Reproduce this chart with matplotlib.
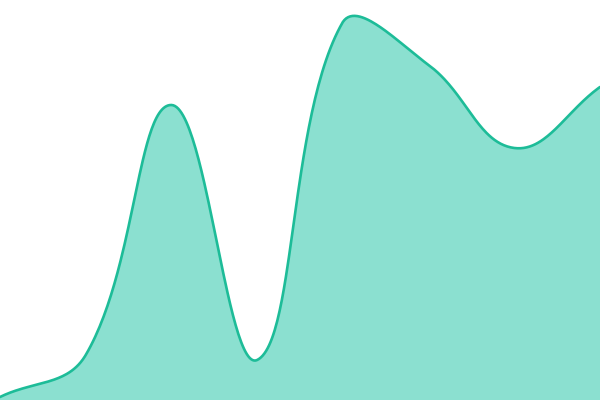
import numpy as np
import matplotlib
matplotlib.use("Agg")
import matplotlib.pyplot as plt

# values (height in px from bottom)
xs = [0, 1, 2, 3, 4, 5, 6, 7]
values = [3, 45, 295, 40, 378, 335, 252, 313]

W, H = 600, 400
tension = 0.4


def spline_path(px, py, n=60):
    # chart.js style spline, control points worked out in pixel space
    m = len(px)
    ctrl = []
    for i in range(m):
        p0 = (px[max(i - 1, 0)], py[max(i - 1, 0)])
        p1 = (px[i], py[i])
        p2 = (px[min(i + 1, m - 1)], py[min(i + 1, m - 1)])
        d01 = np.hypot(p1[0] - p0[0], p1[1] - p0[1])
        d12 = np.hypot(p2[0] - p1[0], p2[1] - p1[1])
        s01 = d01 / (d01 + d12) if d01 + d12 else 0
        s12 = d12 / (d01 + d12) if d01 + d12 else 0
        fa, fb = tension * s01, tension * s12
        prev = (p1[0] - fa * (p2[0] - p0[0]), p1[1] - fa * (p2[1] - p0[1]))
        nxt = (p1[0] + fb * (p2[0] - p0[0]), p1[1] + fb * (p2[1] - p0[1]))
        prev = (min(max(prev[0], 0), W), min(max(prev[1], 0), H))
        nxt = (min(max(nxt[0], 0), W), min(max(nxt[1], 0), H))
        ctrl.append((prev, nxt))
    u = np.linspace(0, 1, n)
    b = [(1 - u) ** 3, 3 * (1 - u) ** 2 * u, 3 * (1 - u) * u ** 2, u ** 3]
    ox, oy = [], []
    for i in range(m - 1):
        c = [(px[i], py[i]), ctrl[i][1], ctrl[i + 1][0], (px[i + 1], py[i + 1])]
        ox.extend(sum(b[k] * c[k][0] for k in range(4)))
        oy.extend(sum(b[k] * c[k][1] for k in range(4)))
    return np.array(ox), np.array(oy)


px = np.array(xs, float) * W / (len(xs) - 1)
py = np.array(values, float)
cx, cy = spline_path(px, py)

fig = plt.figure(figsize=(6, 4), dpi=100)
ax = fig.add_axes([0, 0, 1, 1])
ax.fill_between(cx, 0, cy, color="#8be0d0", lw=0)
ax.plot(cx, cy, color="#1dbc98", lw=1.9, solid_capstyle="round")
ax.set_xlim(0, W)
ax.set_ylim(0, H)
ax.axis("off")
fig.savefig("out.png", dpi=100)
